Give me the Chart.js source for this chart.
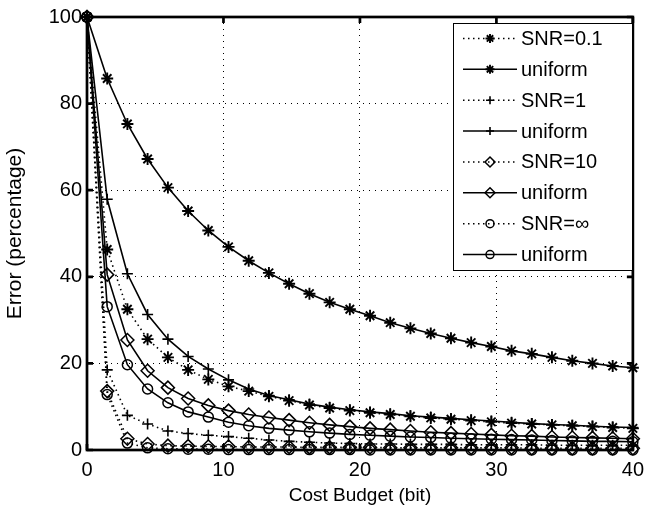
<!DOCTYPE html>
<html>
<head>
<meta charset="utf-8">
<script src="https://cdn.jsdelivr.net/npm/chart.js@4/dist/chart.umd.min.js"></script>
<style>
  html, body { margin: 0; padding: 0; background: #fff; }
  #wrap { width: 652px; height: 510px; }
</style>
</head>
<body>
<div id="wrap"><canvas id="c" width="652" height="510"></canvas></div>
<script>
// Cost budget (bit) at which each error rate was evaluated
const budget = [0, 1.48, 2.96, 4.44, 5.93, 7.41, 8.89, 10.37, 11.85, 13.33, 14.81, 16.30, 17.78, 19.26,
                20.74, 22.22, 23.70, 25.19, 26.67, 28.15, 29.63, 31.11, 32.59, 34.07, 35.56, 37.04, 38.52, 40];

// Error (percentage) for each scheme
const snr01    = [100, 46.3, 32.5, 25.6, 21.4, 18.5, 16.3, 14.7, 13.6, 12.4, 11.4, 10.4, 9.7, 9.1,
                  8.6, 8.2, 7.8, 7.4, 7.1, 6.8, 6.5, 6.2, 6.0, 5.8, 5.6, 5.4, 5.2, 5.0];
const uni01    = [100, 85.8, 75.3, 67.2, 60.6, 55.2, 50.7, 46.9, 43.7, 40.9, 38.4, 36.1, 34.1, 32.5,
                  31.0, 29.4, 28.1, 26.9, 25.8, 24.8, 23.9, 22.9, 22.2, 21.4, 20.6, 20.0, 19.4, 19.0];
const snr1     = [100, 18.5, 8.0, 6.0, 4.4, 3.8, 3.4, 3.1, 2.7, 2.3, 2.0, 1.8, 1.6, 1.5,
                  1.4, 1.4, 1.3, 1.3, 1.3, 1.2, 1.2, 1.2, 1.2, 1.1, 1.1, 1.1, 1.1, 1.1];
const uni1     = [100, 57.9, 40.7, 31.3, 25.6, 21.6, 18.7, 16.2, 14.1, 12.6, 11.6, 10.6, 9.9, 9.3,
                  8.8, 8.4, 7.9, 7.6, 7.3, 7.0, 6.7, 6.4, 6.1, 5.9, 5.7, 5.5, 5.3, 5.2];
const snr10    = [100, 13.6, 2.6, 1.4, 1.0, 0.9, 0.8, 0.8, 0.7, 0.7, 0.7, 0.6, 0.6, 0.6,
                  0.6, 0.5, 0.5, 0.5, 0.5, 0.5, 0.5, 0.5, 0.4, 0.4, 0.4, 0.4, 0.4, 0.4];
const uni10    = [100, 40.5, 25.4, 18.3, 14.4, 11.9, 10.3, 9.1, 8.2, 7.5, 6.9, 6.3, 5.8, 5.4,
                  5.0, 4.7, 4.4, 4.1, 3.9, 3.7, 3.5, 3.3, 3.2, 3.0, 2.9, 2.8, 2.7, 2.6];
const snrInf   = [100, 12.8, 1.6, 0.5, 0.3, 0.2, 0.2, 0.1, 0.1, 0.1, 0.1, 0.1, 0.1, 0.1,
                  0, 0, 0, 0, 0, 0, 0, 0, 0, 0, 0, 0, 0, 0];
const uniInf   = [100, 33.1, 19.7, 14.1, 10.9, 8.8, 7.6, 6.4, 5.6, 5.0, 4.6, 4.2, 3.9, 3.6,
                  3.4, 3.2, 3.0, 2.9, 2.7, 2.6, 2.5, 2.4, 2.3, 2.2, 2.1, 2.0, 2.0, 1.9];

const seriesLabels = ['SNR=0.1', 'uniform', 'SNR=1', 'uniform', 'SNR=10', 'uniform', 'SNR=\u221E', 'uniform'];

// Axis ticks
const xTicks = [0, 10, 20, 30, 40];
const yTicks = [0, 20, 40, 60, 80, 100];

const FONT = "'Liberation Sans', Arial, Helvetica, sans-serif";
Chart.defaults.font.family = FONT;
Chart.defaults.color = '#000';

const DOTTED = [1.5, 3.5];

function series(label, values, marker, radius, markerWidth, dotted) {
  return {
    label,
    data: values.map((v, i) => ({ x: budget[i], y: v })),
    borderColor: '#000',
    backgroundColor: 'transparent',
    borderWidth: 1.6,
    borderDash: dotted ? DOTTED : [],
    pointStyle: marker,
    pointRadius: radius,
    pointBorderWidth: markerWidth,
    pointBorderColor: '#000',
    pointBackgroundColor: 'transparent',
    tension: 0,
    clip: false
  };
}

const datasets = [
  series(seriesLabels[0], snr01,  'star',    6,   1.9, true),
  series(seriesLabels[1], uni01,  'star',    6,   1.9, false),
  series(seriesLabels[2], snr1,   'cross',   5.5, 1.6, true),
  series(seriesLabels[3], uni1,   'cross',   5.5, 1.6, false),
  series(seriesLabels[4], snr10,  'rectRot', 6.5, 1.5, true),
  series(seriesLabels[5], uni10,  'rectRot', 6.5, 1.5, false),
  series(seriesLabels[6], snrInf, 'circle',  5,   1.5, true),
  series(seriesLabels[7], uniInf, 'circle',  5,   1.5, false)
];

// Axes box with inward tick marks on all four sides
const boxPlugin = {
  id: 'axesBox',
  beforeDatasetsDraw(chart) {
    const { ctx, chartArea: a, scales } = chart;
    ctx.save();
    ctx.strokeStyle = '#000';
    ctx.lineWidth = 2.7;
    ctx.setLineDash([]);
    ctx.strokeRect(a.left, a.top, a.right - a.left, a.bottom - a.top);
    const len = 6;
    ctx.beginPath();
    xTicks.forEach(v => {
      const px = scales.x.getPixelForValue(v);
      ctx.moveTo(px, a.bottom); ctx.lineTo(px, a.bottom - len);
      ctx.moveTo(px, a.top); ctx.lineTo(px, a.top + len);
    });
    yTicks.forEach(v => {
      const py = scales.y.getPixelForValue(v);
      ctx.moveTo(a.left, py); ctx.lineTo(a.left + len, py);
      ctx.moveTo(a.right, py); ctx.lineTo(a.right - len, py);
    });
    ctx.stroke();
    ctx.restore();
  }
};

// Boxed legend in the upper right corner
const legendPlugin = {
  id: 'boxLegend',
  afterDatasetsDraw(chart) {
    const { ctx } = chart;
    const left = 453, top = 23, right = 632, bottom = 270;
    const rowH = (bottom - top) / datasets.length;
    ctx.save();
    ctx.fillStyle = '#fff';
    ctx.fillRect(left, top, right - left, bottom - top);
    ctx.strokeStyle = '#000';
    ctx.lineWidth = 1;
    ctx.setLineDash([]);
    ctx.strokeRect(left + 0.5, top + 0.5, right - left, bottom - top);
    chart.data.datasets.forEach((ds, i) => {
      const y = top + rowH * (i + 0.5);
      ctx.save();
      ctx.strokeStyle = '#000';
      ctx.lineWidth = ds.borderWidth;
      ctx.setLineDash(ds.borderDash);
      ctx.beginPath();
      ctx.moveTo(463, y); ctx.lineTo(517, y);
      ctx.stroke();
      ctx.restore();
      ctx.save();
      ctx.strokeStyle = '#000';
      ctx.fillStyle = 'transparent';
      ctx.setLineDash([]);
      ctx.lineWidth = ds.pointBorderWidth;
      Chart.helpers.drawPoint(ctx, {
        pointStyle: ds.pointStyle, rotation: 0,
        radius: ds.pointStyle === 'circle' ? 4 : ds.pointRadius - 1.5, borderWidth: ds.pointBorderWidth
      }, 490, y);
      ctx.restore();
      ctx.fillStyle = '#000';
      ctx.font = '20px ' + FONT;
      ctx.textBaseline = 'middle';
      ctx.textAlign = 'left';
      ctx.fillText(ds.label, 521, y + 1);
    });
    ctx.restore();
  }
};

new Chart(document.getElementById('c'), {
  type: 'line',
  data: { datasets },
  options: {
    responsive: false,
    animation: false,
    devicePixelRatio: 1,
    layout: { padding: { left: 0, right: 12, top: 14, bottom: 0 } },
    plugins: { legend: { display: false }, tooltip: { enabled: false } },
    scales: {
      x: {
        type: 'linear', min: 0, max: 40,
        afterBuildTicks: s => { s.ticks = xTicks.map(v => ({ value: v })); },
        afterFit: s => { s.height = 60; },
        grid: { color: '#000', lineWidth: 1, drawTicks: false },
        border: { display: false, dash: [1, 5] },
        ticks: { padding: 8, font: { size: 20 }, color: '#000', maxRotation: 0 },
        title: { display: true, text: 'Cost Budget (bit)', font: { size: 19 }, color: '#000', padding: { top: 2, bottom: 3 } }
      },
      y: {
        type: 'linear', min: 0, max: 100,
        afterBuildTicks: s => { s.ticks = yTicks.map(v => ({ value: v })); },
        afterFit: s => { s.width = 87; },
        grid: { color: '#000', lineWidth: 1, drawTicks: false },
        border: { display: false, dash: [1, 5] },
        ticks: { padding: 5, font: { size: 20 }, color: '#000' },
        title: { display: true, text: 'Error (percentage)', font: { size: 21 }, color: '#000', padding: { top: 3, bottom: 0 } }
      }
    }
  },
  plugins: [boxPlugin, legendPlugin]
});
</script>
</body>
</html>
